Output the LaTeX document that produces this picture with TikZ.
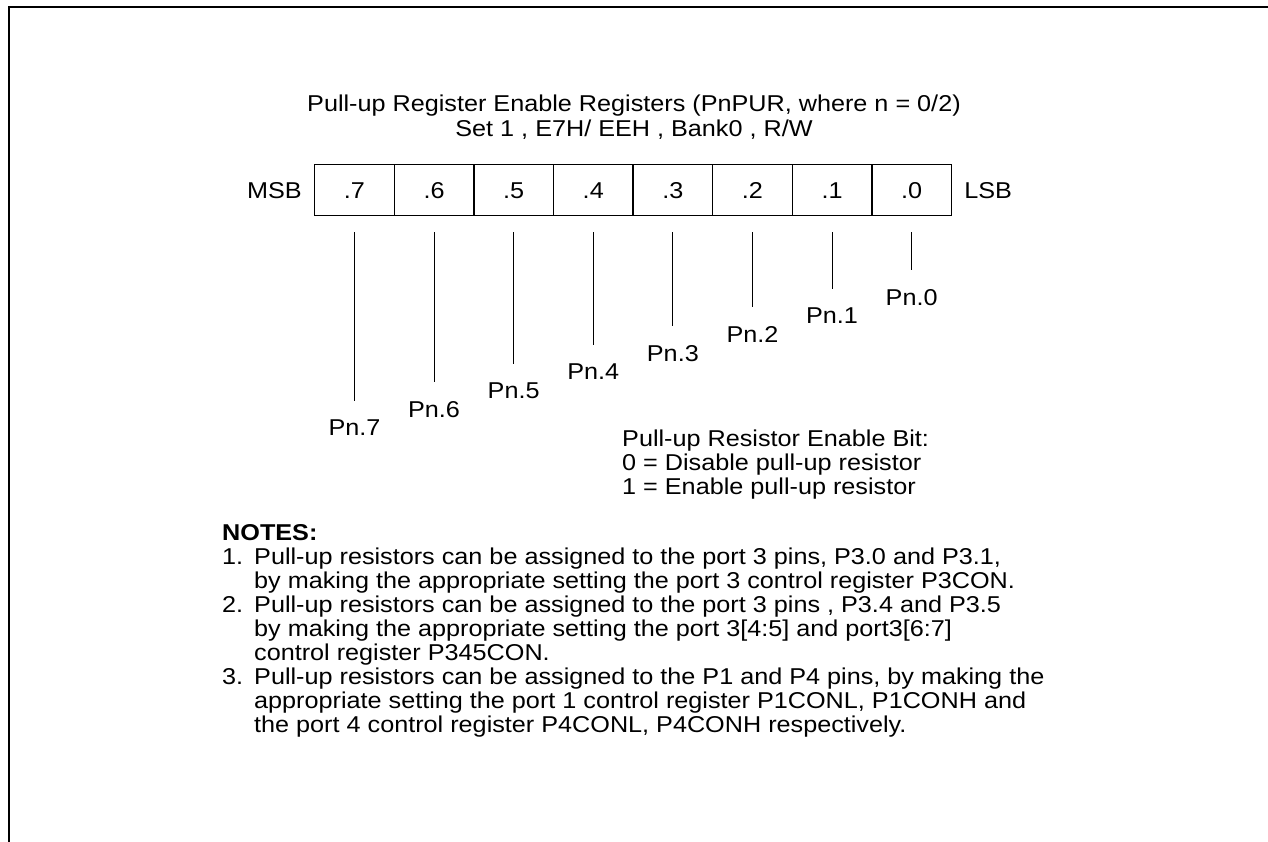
\documentclass[tikz,border=0pt]{standalone}
\usepackage{fontspec}
\setmainfont[FakeStretch=1.1]{Liberation Sans}
\usetikzlibrary{positioning}

\begin{document}
\begin{tikzpicture}[
  x=1bp, y=-1bp,
  txt/.style={font=\fontsize{23}{24}\selectfont, inner sep=0pt},
  para/.style={txt, anchor=north west, align=left},
  bitcell/.style={draw, line width=1.3bp, minimum width=79.6bp, minimum height=51bp,
                  inner sep=0pt, text height=16.5bp, text depth=0pt,
                  anchor=north west, font=\fontsize{23}{24}\selectfont},
  lead/.style={line width=1.1bp, shorten >=19bp},
]
\useasboundingbox (0,0) rectangle (1268,842);
\draw[line width=2bp] (9,842) -- (9,7) -- (1268,7);

% heading
\node[txt, anchor=base] (head1) at (634,111) {Pull-up Register Enable Registers (PnPUR, where n = 0/2)};
\node[txt, anchor=base] (head2) at (634,136) {Set 1 , E7H/ EEH , Bank0 , R/W};

% register bits
\foreach \b [count=\i from 0] in {7,6,5,4,3,2,1,0}
  \node[bitcell] (c\b) at (314+79.6*\i,164) {.\b};
\node[txt, left=12bp of c7] (msb) {MSB};
\node[txt, right=12bp of c0] (lsb) {LSB};

% bit leads
\foreach \b in {0,...,7} {
  \pgfmathsetmacro\py{305+18.7*\b}
  \coordinate (top\b) at ([yshift=-16bp]c\b.south);
  \node[txt, anchor=base] (p\b) at (c\b |- 0,\py) {Pn.\b};
  \draw[lead] (top\b) -- (p\b.north);
}

\node[para] (key) at (622,429.5)
  {Pull-up Resistor Enable Bit:\\0 = Disable pull-up resistor\\1 = Enable pull-up resistor};

% notes
\node[txt, anchor=base west, font=\fontsize{23}{24}\selectfont\bfseries] (notes) at (222,540) {NOTES:};
\node[txt, anchor=base west] (n1) at (222,564) {1.};
\node[para] (t1) at (254,547.5)
  {Pull-up resistors can be assigned to the port 3 pins, P3.0 and P3.1,\\
   by making the appropriate setting the port 3 control register P3CON.};
\node[txt, anchor=base west] (n2) at (222,612) {2.};
\node[para] (t2) at (254,595.5)
  {Pull-up resistors can be assigned to the port 3 pins , P3.4 and P3.5\\
   by making the appropriate setting the port 3[4:5] and port3[6:7]\\
   control register P345CON.};
\node[txt, anchor=base west] (n3) at (222,684) {3.};
\node[para] (t3) at (254,667.5)
  {Pull-up resistors can be assigned to the P1 and P4 pins, by making the\\
   appropriate setting the port 1 control register P1CONL, P1CONH and\\
   the port 4 control register P4CONL, P4CONH respectively.};
\end{tikzpicture}
\end{document}
